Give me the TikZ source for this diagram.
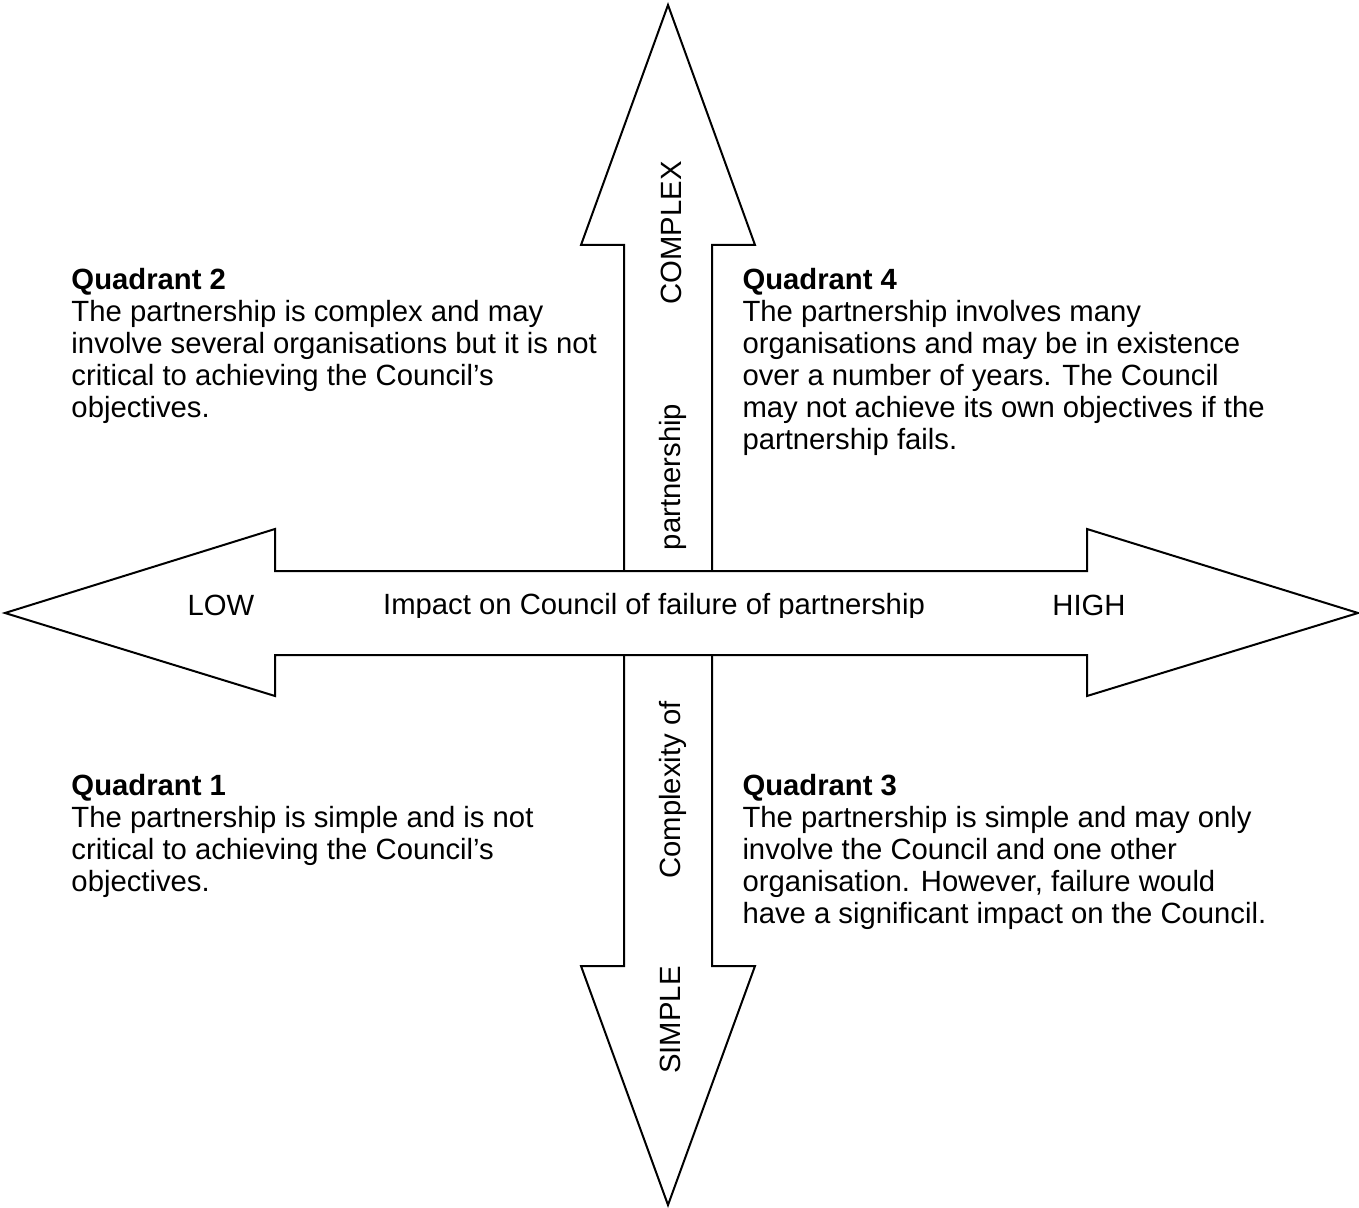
\documentclass[tikz,border=0pt]{standalone}
\usepackage{fontspec}
\setmainfont{Liberation Sans}
\usetikzlibrary{positioning}
\tikzset{
  fig/.style={font=\fontsize{12}{13.1}\selectfont},
  bigarrow/.style={draw,line width=0.82pt,fill=white,line join=miter},
  quad/.style={anchor=north west,align=left,inner sep=0pt},
  axislbl/.style={inner sep=0pt,anchor=base},
  vlbl/.style={axislbl,rotate=90},
}

\begin{document}
\begin{tikzpicture}[fig,x=0.41pt,y=-0.41pt]
\useasboundingbox (0,0) rectangle (1359,1208);

% vertical arrow (complexity)
\draw[bigarrow] (668,5) -- (755,245) -- (712,245) -- (712,966) -- (755,966)
  -- (668,1205) -- (581,966) -- (624,966) -- (624,245) -- (581,245) -- cycle;
% horizontal arrow (impact), on top of the vertical one
\draw[bigarrow] (5,613) -- (275,529) -- (275,571) -- (1087,571) -- (1087,529)
  -- (1358,613) -- (1087,696) -- (1087,655) -- (275,655) -- (275,696) -- cycle;

\node[axislbl] (low) at (221,615) {LOW};
\node[axislbl] (high) at (1089,615) {HIGH};
\begin{scope}
  \clip (370,580) rectangle (940,617);
  \node[axislbl] (impact) at (654,614) {Impact on Council of failure of partnership};
\end{scope}

\node[vlbl] (complex) at (681,233) {COMPLEX};
\node[vlbl] (partn) at (680,477) {partnership};
\node[vlbl] (cmplxof) at (680,790) {Complexity of};
\node[vlbl] (simple) at (680,1020) {SIMPLE};

\node[quad] (q2) at (71,268) {\textbf{Quadrant 2}\\The partnership is complex and may\\
  involve several organisations but it is not\\critical to achieving the Council's\\objectives.};
\node[quad] (q4) at (742,268) {\textbf{Quadrant 4}\\The partnership involves many\\
  organisations and may be in existence\\over a number of years. The Council\\
  may not achieve its own objectives if the\\partnership fails.};
\node[quad] (q1) at (71,774) {\textbf{Quadrant 1}\\The partnership is simple and is not\\
  critical to achieving the Council's\\objectives.};
\node[quad] (q3) at (742,774) {\textbf{Quadrant 3}\\The partnership is simple and may only\\
  involve the Council and one other\\organisation. However, failure would\\
  have a significant impact on the Council.};

\end{tikzpicture}
\end{document}
